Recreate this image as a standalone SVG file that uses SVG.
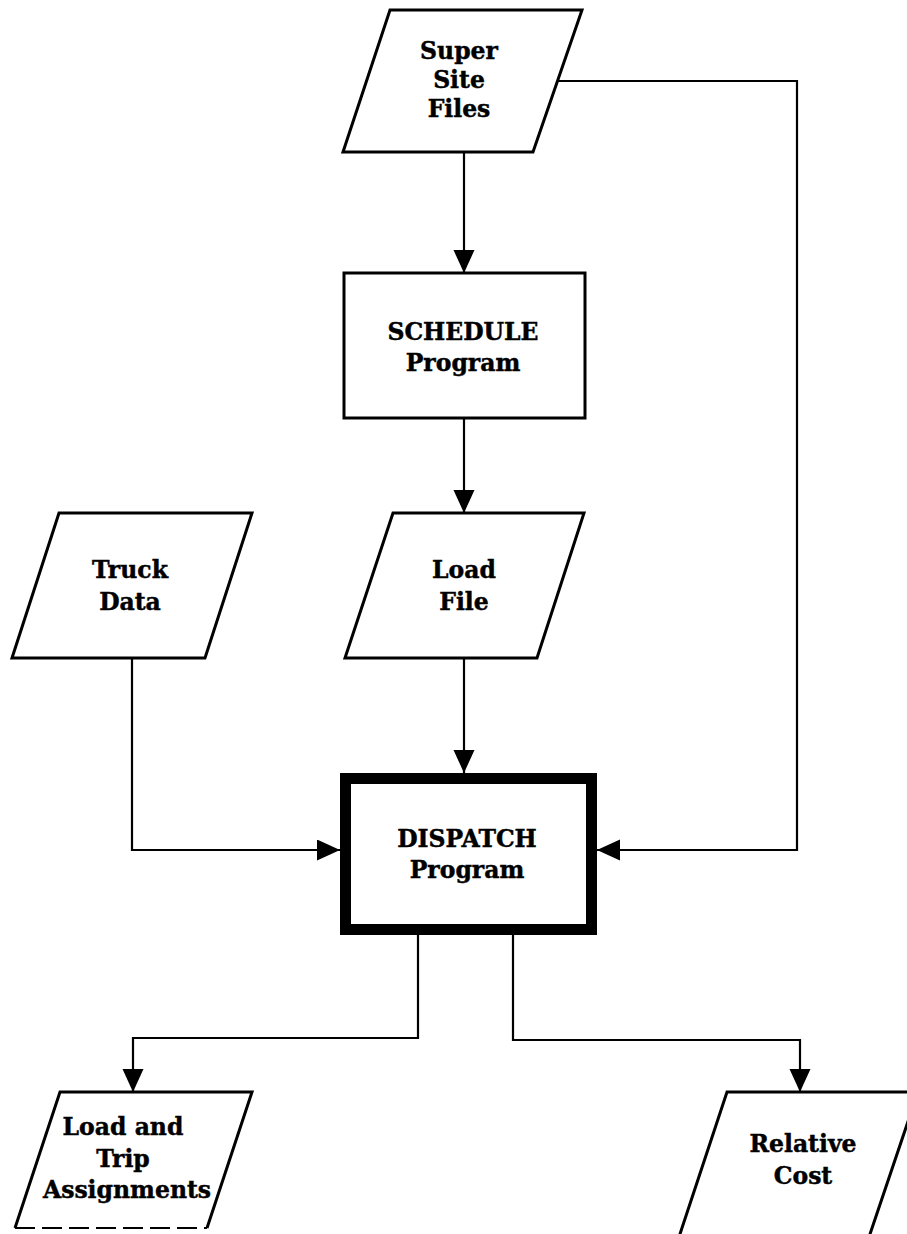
<svg xmlns="http://www.w3.org/2000/svg" width="907" height="1234" viewBox="0 0 907 1234">
<style>
.shape{fill:#fff;stroke:#000;stroke-width:3;stroke-linejoin:miter}
.thick{fill:#fff;stroke:#000;stroke-width:11}
.conn{fill:none;stroke:#000;stroke-width:2.2}
.lbl{font-family:"DejaVu Serif","Liberation Serif",serif;font-weight:bold;font-size:23.5px;text-anchor:middle;fill:#000;stroke:#000;stroke-width:0.45}
</style>
<defs>
<marker id="arr" markerUnits="userSpaceOnUse" markerWidth="24" markerHeight="22" refX="23" refY="10.5" orient="auto" viewBox="0 0 24 22">
<path d="M0,0 L23,10.5 L0,21 z" fill="#000"/>
</marker>
</defs>
<rect width="907" height="1234" fill="#fff"/>
<g id="connectors">
<path class="conn" d="M464,153 L464,273" marker-end="url(#arr)"/>
<path class="conn" d="M464,418 L464,513" marker-end="url(#arr)"/>
<path class="conn" d="M464,658 L464,773" marker-end="url(#arr)"/>
<path class="conn" d="M557,81 L797,81 L797,850 L597,850" marker-end="url(#arr)"/>
<path class="conn" d="M132,658 L132,850 L340,850" marker-end="url(#arr)"/>
<path class="conn" d="M418,935 L418,1038 L133,1038 L133,1092" marker-end="url(#arr)"/>
<path class="conn" d="M513,935 L513,1040 L800,1040 L800,1092" marker-end="url(#arr)"/>
</g>
<g id="super-site-files">
<polygon class="shape" points="390,10 582,10 533,152 343,152"/>
<text class="lbl" x="459" y="59">Super</text>
<text class="lbl" x="459" y="88">Site</text>
<text class="lbl" x="459" y="117">Files</text>
</g>
<g id="schedule-program">
<rect class="shape" x="344" y="273" width="241" height="145"/>
<text class="lbl" x="463" y="340">SCHEDULE</text>
<text class="lbl" x="463" y="371">Program</text>
</g>
<g id="truck-data">
<polygon class="shape" points="59,513 252,513 205,658 12,658"/>
<text class="lbl" x="130" y="578">Truck</text>
<text class="lbl" x="130" y="610">Data</text>
</g>
<g id="load-file">
<polygon class="shape" points="393,513 584,513 537,658 345,658"/>
<text class="lbl" x="464" y="578">Load</text>
<text class="lbl" x="464" y="610">File</text>
</g>
<g id="dispatch-program">
<rect class="thick" x="345.5" y="778.5" width="246" height="151"/>
<text class="lbl" x="467" y="847">DISPATCH</text>
<text class="lbl" x="467" y="878">Program</text>
</g>
<g id="load-trip-assignments">
<path class="shape" d="M15,1228 L60,1092 L252,1092 L207,1228"/>
<path d="M15,1228 L207,1228" fill="none" stroke="#000" stroke-width="2" stroke-dasharray="20,7"/>
<text class="lbl" x="123" y="1135">Load and</text>
<text class="lbl" x="123" y="1167">Trip</text>
<text class="lbl" x="127" y="1198">Assignments</text>
</g>
<g id="relative-cost">
<polygon class="shape" points="727,1092 918,1092 868,1240 678,1240"/>
<text class="lbl" x="803" y="1152">Relative</text>
<text class="lbl" x="803" y="1184">Cost</text>
</g>
</svg>
